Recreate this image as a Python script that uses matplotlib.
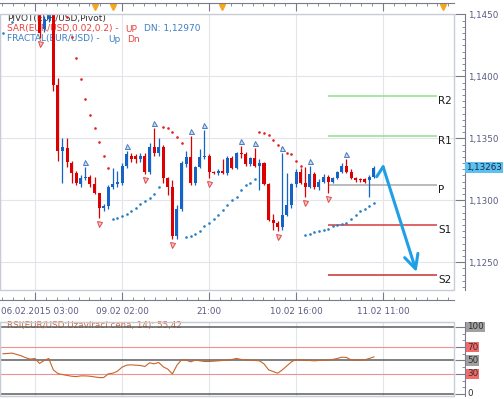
import matplotlib
matplotlib.use("Agg")
import matplotlib.pyplot as plt
from matplotlib.ticker import FuncFormatter, MultipleLocator, FixedLocator
from matplotlib.patches import Rectangle
from matplotlib.transforms import offset_copy, blended_transform_factory

plt.rcParams['font.family'] = ['DejaVu Sans']

# hourly EUR/USD candles, index 0 = 06.02.2015 03:00
first_idx = 1
opens = [1.1458, 1.1438, 1.1446, 1.1458, 1.1393, 1.1340, 1.1342, 1.1330, 1.1322, 1.1313,
         1.1318, 1.1319, 1.1313, 1.1306, 1.1294, 1.1295, 1.1311, 1.1313, 1.1314, 1.1328,
         1.1336, 1.1336, 1.1333, 1.1336, 1.1323, 1.1343, 1.1338, 1.1343, 1.1318, 1.1311,
         1.1271, 1.1293, 1.1329, 1.1335, 1.1314, 1.1327, 1.1335, 1.1336, 1.1323, 1.1322,
         1.1324, 1.1322, 1.1334, 1.1326, 1.1338, 1.1337, 1.1329, 1.1334, 1.1328, 1.1330,
         1.1313, 1.1284, 1.1282, 1.1278, 1.1288, 1.1296, 1.1313, 1.1323, 1.1314, 1.1311,
         1.1321, 1.1311, 1.1315, 1.1319, 1.1315, 1.1318, 1.1323, 1.1328, 1.1323, 1.1318,
         1.1317, 1.1317, 1.1316, 1.1319]
highs = [1.1462, 1.1449, 1.1462, 1.1461, 1.1399, 1.1350, 1.1350, 1.1332, 1.1324, 1.1320,
         1.1327, 1.1320, 1.1319, 1.1306, 1.1297, 1.1312, 1.1326, 1.1324, 1.1330, 1.1340,
         1.1338, 1.1337, 1.1338, 1.1338, 1.1346, 1.1358, 1.1350, 1.1345, 1.1319, 1.1316,
         1.1296, 1.1332, 1.1340, 1.1352, 1.1328, 1.1341, 1.1357, 1.1337, 1.1324, 1.1325,
         1.1333, 1.1336, 1.1336, 1.1339, 1.1344, 1.1339, 1.1335, 1.1342, 1.1333, 1.1331,
         1.1314, 1.1289, 1.1283, 1.1338, 1.1322, 1.1314, 1.1325, 1.1326, 1.1327, 1.1328,
         1.1323, 1.1317, 1.1321, 1.1320, 1.1319, 1.1324, 1.1330, 1.1333, 1.1325, 1.1319,
         1.1318, 1.1318, 1.1320, 1.1328]
lows = [1.1431, 1.1436, 1.1444, 1.1388, 1.1332, 1.1314, 1.1327, 1.1314, 1.1312, 1.1311,
        1.1316, 1.1311, 1.1305, 1.1286, 1.1291, 1.1293, 1.1309, 1.1311, 1.1312, 1.1326,
        1.1331, 1.1330, 1.1331, 1.1321, 1.1321, 1.1336, 1.1336, 1.1314, 1.1304, 1.1269,
        1.1269, 1.1291, 1.1327, 1.1312, 1.1312, 1.1326, 1.1333, 1.1318, 1.1321, 1.1320,
        1.1321, 1.1320, 1.1325, 1.1325, 1.1334, 1.1328, 1.1328, 1.1327, 1.1308, 1.1312,
        1.1283, 1.1276, 1.1275, 1.1276, 1.1287, 1.1294, 1.1311, 1.1313, 1.1303, 1.1310,
        1.1309, 1.1308, 1.1314, 1.1306, 1.1314, 1.1317, 1.1322, 1.1322, 1.1317, 1.1315,
        1.1315, 1.1314, 1.1303, 1.1318]
closes = [1.1435, 1.1446, 1.1458, 1.1393, 1.1340, 1.1343, 1.1331, 1.1322, 1.1314, 1.1318,
          1.1319, 1.1313, 1.1306, 1.1294, 1.1295, 1.1311, 1.1313, 1.1315, 1.1328, 1.1337,
          1.1333, 1.1333, 1.1336, 1.1323, 1.1343, 1.1338, 1.1343, 1.1318, 1.1311, 1.1271,
          1.1293, 1.1330, 1.1335, 1.1314, 1.1327, 1.1335, 1.1336, 1.1323, 1.1322, 1.1324,
          1.1322, 1.1334, 1.1326, 1.1338, 1.1337, 1.1329, 1.1334, 1.1328, 1.1330, 1.1313,
          1.1284, 1.1282, 1.1278, 1.1288, 1.1296, 1.1313, 1.1323, 1.1314, 1.1311, 1.1321,
          1.1311, 1.1315, 1.1319, 1.1315, 1.1318, 1.1323, 1.1328, 1.1323, 1.1318, 1.1316,
          1.1316, 1.1315, 1.1319, 1.13263]

# parabolic SAR
sar_up_idx = [-7, -5] + list(range(17, 28)) + list(range(33, 49)) + list(range(59, 75))
sar_up = [1.1435, 1.1444,
          1.1285, 1.1286, 1.1287, 1.1289, 1.1291, 1.1294, 1.1297, 1.1299, 1.1302, 1.1305, 1.1311,
          1.1270, 1.1271, 1.1273, 1.1275, 1.1279, 1.1282, 1.1285, 1.1288, 1.1292, 1.1296,
          1.1300, 1.1303, 1.1308, 1.1312, 1.1314, 1.1317,
          1.1272, 1.1273, 1.1274, 1.1275, 1.1276, 1.1277, 1.1279, 1.1280, 1.1281, 1.1282,
          1.1285, 1.1288, 1.1291, 1.1293, 1.1295, 1.1298]
sar_dn_idx = list(range(7, 17)) + list(range(28, 33)) + list(range(49, 59))
sar_dn = [1.1448, 1.1432, 1.1415, 1.1398, 1.1382, 1.1369, 1.1358, 1.1347, 1.1336, 1.1326,
          1.1359, 1.1358, 1.1355, 1.1351, 1.1346,
          1.1355, 1.1354, 1.1353, 1.1349, 1.1345, 1.1342, 1.1338, 1.1337, 1.1332, 1.1328]

# fractals (candle index)
fractal_up = [11, 20, 26, 34, 37, 45, 48, 54, 60, 68]
fractal_dn = [1, 14, 24, 30, 38, 53, 59, 64]

# pivot levels
pivot_names = ['R2', 'R1', 'P', 'S1', 'S2']
pivot_vals = [1.1384, 1.1352, 1.1312, 1.1280, 1.1240]
pivot_colors = ['#8fe08f', '#8fe08f', '#a8a8a8', '#d83a3a', '#c83030']
pivot_start, pivot_end = 64, 87.8

# forecast arrow
arrow_k = [74.6, 76.0, 83.3]
arrow_p = [1.1319, 1.1327, 1.1242]

# news markers on the top strip
event_k = [13.1, 17.0, 40.8, 89.0]

grid_k = [0, 19, 38, 57, 76]
x_labels = ['06.02.2015 03:00', '09.02 02:00', '21:00', '10.02 16:00', '11.02 11:00']
last_price = 1.13263

# RSI(14), index -7 .. 74
rsi_start = -7
rsi = [60, 60.5, 61, 59, 57, 54, 52, 53, 45.5, 50, 53, 36, 30.5, 29, 27.7, 26.5, 26, 27, 27,
       26.5, 25.5, 24.5, 24.5, 30, 31, 34, 40, 43, 43.5, 43, 42.5, 41, 46.5, 45, 47, 40.6,
       37, 30, 43, 51, 50.5, 48, 50.5, 49.5, 48.5, 48.5, 49, 49.5, 50, 50.5, 51.5, 53, 51.5,
       50.5, 50.5, 50, 49.5, 45, 36, 33.5, 31, 36, 42, 48, 51.5, 50.5, 50, 50, 49.5, 50,
       50.5, 50.5, 51.5, 53, 55, 54.5, 51, 50.5, 50.5, 51, 53, 55.42]
rsi_levels = [100, 70, 50, 30, 0]
rsi_level_bg = ['#a0a0a0', '#f26a6a', '#a0a0a0', '#f26a6a', 'white']

RED = '#dc0000'
BLUE = '#1464c8'
LABEL_C = '#5a5a84'
BOX_C = '#c8ccd6'
AXIS_C = '#7a7a8a'

W, H = 504, 399


def px_rect(x0, y0, x1, y1):
    return [x0 / W, 1 - y1 / H, (x1 - x0) / W, (y1 - y0) / H]


fig = plt.figure(figsize=(W / 100, H / 100), dpi=100)
ax = fig.add_axes(px_rect(0, 14, 454, 290))
ax_rsi = fig.add_axes(px_rect(0, 322, 454, 396))

xlim = (-7.64, 91.48)

# ---- main price panel ----
ax.set_xlim(*xlim)
ax.set_ylim(1.12275, 1.14504)
ax.set_axisbelow(True)
ax.grid(True, which='major', color='#e3e5eb', lw=0.8)

for i in range(len(opens)):
    k = first_idx + i
    o, h, l, c = opens[i], highs[i], lows[i], closes[i]
    col = BLUE if c >= o else RED
    ax.vlines(k, l, h, color=col, lw=0.9, zorder=3)
    ax.bar(k, max(abs(c - o), 0.00003), bottom=min(o, c), width=0.66, color=col,
           linewidth=0, zorder=3)

ax.plot(sar_up_idx, sar_up, 'o', color='#2a7fc4', ms=1.9, mec='none', zorder=4)
ax.plot(sar_dn_idx, sar_dn, 'o', color='#e02424', ms=1.9, mec='none', zorder=4)

up_tr = offset_copy(ax.transData, fig=fig, y=5, units='dots')
dn_tr = offset_copy(ax.transData, fig=fig, y=-6, units='dots')
ax.plot(fractal_up, [highs[k - first_idx] for k in fractal_up], '^', transform=up_tr,
        ms=3.6, mfc='#c8dbf4', mec='#4a7cc0', mew=0.7, zorder=4)
ax.plot(fractal_dn, [lows[k - first_idx] for k in fractal_dn], 'v', transform=dn_tr,
        ms=3.6, mfc='#f8c4c4', mec='#e04848', mew=0.7, zorder=4)

for name, val, col in zip(pivot_names, pivot_vals, pivot_colors):
    ax.hlines(val, pivot_start, pivot_end, color=col, lw=1.1, zorder=2)
    ax.annotate(name, xy=(pivot_end, val), xytext=(1, -5), textcoords='offset pixels',
                ha='left', va='center', fontsize=7.5, color='#1a1a1a')

ax.plot(arrow_k[:2], arrow_p[:2], color='#1fa0e6', lw=2.2, solid_capstyle='round', zorder=5)
ax.annotate('', xy=(arrow_k[2], arrow_p[2]), xytext=(arrow_k[1], arrow_p[1]),
            arrowprops=dict(arrowstyle='->,head_length=1.0,head_width=0.5',
                            color='#1fa0e6', lw=2.2, shrinkA=0, shrinkB=0), zorder=5)

top_tr = blended_transform_factory(ax.transData, ax.transAxes)
ax.plot(event_k, [1.024] * len(event_k), 'v', transform=top_tr, color='#f5a623',
        ms=5, clip_on=False)

# legend lines
t1 = ax.text(7 / 454, 1 - 5 / 276, 'PIVOT(EUR/USD,Pivot)', transform=ax.transAxes,
             fontsize=6.5, color='#303030', va='center', zorder=2)
t2 = ax.text(7 / 454, 1 - 15 / 276, 'SAR(EUR/USD,0.02,0.2) -', transform=ax.transAxes,
             fontsize=6.5, color='#e8413c', va='center', zorder=2)
t2b = ax.annotate('UP', xy=(1, 0.5), xycoords=t2, xytext=(5, 0), textcoords='offset points',
                  fontsize=6.5, color='#e8413c', va='center', zorder=2)
ax.annotate('DN: 1,12970', xy=(1, 0.5), xycoords=t2b, xytext=(5, 0),
            textcoords='offset points', fontsize=6.5, color='#3d7fc4', va='center', zorder=2)
t3 = ax.text(7 / 454, 1 - 25 / 276, 'FRACTAL(EUR/USD) -', transform=ax.transAxes,
             fontsize=6.5, color='#3d7fc4', va='center', zorder=2)
t3b = ax.annotate('Up', xy=(1, 0.5), xycoords=t3, xytext=(6, 0), textcoords='offset points',
                  fontsize=6.5, color='#3d7fc4', va='center', zorder=2)
ax.annotate('Dn', xy=(1, 0.5), xycoords=t3b, xytext=(5, 0), textcoords='offset points',
            fontsize=6.5, color='#e8413c', va='center', zorder=2)

# axes styling
for s in ax.spines.values():
    s.set_color(BOX_C)
ax.spines['right'].set_position(('outward', 8))
ax.spines['right'].set_color(AXIS_C)
ax.spines['bottom'].set_position(('outward', 7))
ax.spines['bottom'].set_color(AXIS_C)
ax.spines['top'].set_position(('outward', 8))
ax.spines['top'].set_color(AXIS_C)
ax.add_patch(Rectangle((0, 0), 1, 1, transform=ax.transAxes, fill=False, ec=BOX_C,
                       lw=1, clip_on=False, zorder=6))

ax.xaxis.set_major_locator(FixedLocator(grid_k))
ax.xaxis.set_minor_locator(MultipleLocator(19 / 8))
ax.tick_params(axis='x', which='both', direction='in', top=True, bottom=True,
               labelbottom=False, color=AXIS_C)
ax.tick_params(axis='x', which='major', length=5.5, width=0.8)
ax.tick_params(axis='x', which='minor', length=2.5, width=0.6)

ax.yaxis.tick_right()
ax.yaxis.set_major_locator(MultipleLocator(0.005))
ax.yaxis.set_minor_locator(MultipleLocator(0.0005))
ax.yaxis.set_major_formatter(FuncFormatter(lambda v, p: f'{v:.4f}'.replace('.', ',')))
ax.tick_params(axis='y', which='both', direction='in', color=AXIS_C, labelcolor=LABEL_C,
               labelsize=6.3, pad=2)
ax.tick_params(axis='y', which='major', length=7, width=0.8)
ax.tick_params(axis='y', which='minor', length=2.5, width=0.6)

ax.text(1 + 12 / 454, last_price, f'{last_price:.5f}'.replace('.', ','),
        transform=blended_transform_factory(ax.transAxes, ax.transData),
        fontsize=6.3, color='#1c2a40', va='center', ha='left', clip_on=False,
        bbox=dict(fc='#5cc0f0', ec='none', pad=0.8))

lab_tr = blended_transform_factory(ax.transData, ax.transAxes)
ax.text(0.002, -21 / 276, x_labels[0], transform=ax.transAxes, ha='left', va='center',
        fontsize=6.3, color=LABEL_C)
for k, lab in zip(grid_k[1:], x_labels[1:]):
    ax.text(k, -21 / 276, lab, transform=lab_tr, ha='center', va='center',
            fontsize=6.3, color=LABEL_C)

# ---- RSI panel ----
ax_rsi.set_xlim(*xlim)
ax_rsi.set_ylim(-3, 107.4)
ax_rsi.set_axisbelow(True)
ax_rsi.xaxis.set_major_locator(FixedLocator(grid_k))
ax_rsi.grid(True, axis='x', color='#e3e5eb', lw=0.8)
ax_rsi.tick_params(axis='x', which='both', bottom=False, labelbottom=False)

for lv in (100, 50, 0):
    ax_rsi.axhline(lv, color='#5c5c5c', lw=1.1, zorder=2)
for lv in (70, 30):
    ax_rsi.axhline(lv, color='#f09090', lw=0.8, zorder=2)

ax_rsi.plot(range(rsi_start, rsi_start + len(rsi)), rsi, color='#c8642a', lw=0.8, zorder=3)
ax_rsi.text(7 / 454, 101.5, 'RSI(EUR/USD:Uzavírací cena, 14): 55,42',
            transform=blended_transform_factory(ax_rsi.transAxes, ax_rsi.transData),
            fontsize=6.3, color='#d2643a', va='center', zorder=1)

for s in ax_rsi.spines.values():
    s.set_color(BOX_C)
ax_rsi.spines['right'].set_position(('outward', 8))
ax_rsi.spines['right'].set_color(AXIS_C)
ax_rsi.add_patch(Rectangle((0, 0), 1, 1, transform=ax_rsi.transAxes, fill=False, ec=BOX_C,
                           lw=1, clip_on=False, zorder=6))
ax_rsi.yaxis.tick_right()
ax_rsi.yaxis.set_major_locator(FixedLocator(rsi_levels))
ax_rsi.yaxis.set_minor_locator(MultipleLocator(10))
ax_rsi.tick_params(axis='y', which='both', direction='in', color=AXIS_C, labelright=False)
ax_rsi.tick_params(axis='y', which='major', length=7, width=0.8)
ax_rsi.tick_params(axis='y', which='minor', length=2.5, width=0.6)

rsi_lab_tr = blended_transform_factory(ax_rsi.transAxes, ax_rsi.transData)
for lv, bg in zip(rsi_levels, rsi_level_bg):
    ax_rsi.text(1 + 13 / 454, lv, str(lv), transform=rsi_lab_tr, fontsize=6.3,
                color='#303030', va='center', ha='left', clip_on=False,
                bbox=dict(fc=bg, ec='none', pad=0.6))

fig.savefig('out.png', dpi=100)
